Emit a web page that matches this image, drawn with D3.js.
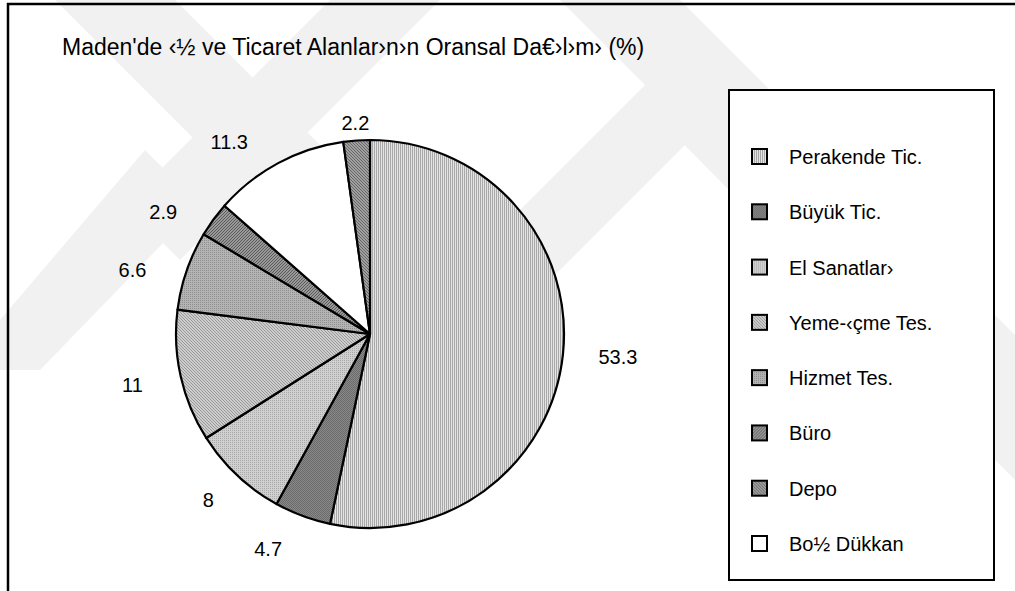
<!DOCTYPE html>
<html><head><meta charset="utf-8">
<script src="https://cdn.jsdelivr.net/npm/d3@7"></script>
<style>html,body{margin:0;padding:0;background:#fff;}svg{display:block;}</style>
</head><body>
<svg id="chart" width="1015" height="591"></svg>
<script>
// ---- data ----
const title = "Maden'de ‹½ ve Ticaret Alanlar›n›n Oransal Da€›l›m› (%)";
const sliceCategories = ["Perakende Tic.", "Büyük Tic.", "El Sanatlar›", "Yeme-‹çme Tes.", "Hizmet Tes.", "Büro", "Bo½ Dükkan", "Depo"];
const sliceValues = [53.3, 4.7, 8, 11, 6.6, 2.9, 11.3, 2.2];
const legendCategories = ["Perakende Tic.", "Büyük Tic.", "El Sanatlar›", "Yeme-‹çme Tes.", "Hizmet Tes.", "Büro", "Depo", "Bo½ Dükkan"];

// ---- layout / style ----
const cx = 370, cy = 334, R = 194;
const labelNudgeDeg = [-0.6, 5, 1, 0.5, -4, -5.7, -8, 0];   // label angle tweaks
const labelGap = [55, 44, 38, 49, 52, 46, 44, 18];          // distance beyond the rim
const svg = d3.select("#chart");
const FONT = "'Liberation Sans', Arial, sans-serif";

// patterns
const defs = svg.append("defs");
function pat(id, w, h, bg, dots, col) {
  const p = defs.append("pattern").attr("id", id).attr("patternUnits", "userSpaceOnUse")
    .attr("width", w).attr("height", h);
  p.append("rect").attr("width", w).attr("height", h).attr("fill", bg);
  dots.forEach(([x, y, ww, hh]) => p.append("rect").attr("x", x).attr("y", y)
    .attr("width", ww || 1).attr("height", hh || 1).attr("fill", col));
}
pat("p0", 2, 2, "#e4e4e4", [[0, 0, 1, 2]], "#a8a8a8");
pat("p1", 2, 2, "#8a8a8a", [[0, 0], [1, 1]], "#6a6a6a");
pat("p2", 2, 2, "#d0d0d0", [[0, 0]], "#a8a8a8");
pat("p3", 3, 3, "#cdcdcd", [[0, 0], [1, 1], [2, 2]], "#999");
pat("p4", 2, 2, "#b4b4b4", [[0, 0]], "#8e8e8e");
pat("p5", 3, 3, "#999999", [[2, 0], [1, 1], [0, 2]], "#5a5a5a");
pat("p6", 3, 3, "#a0a0a0", [[0, 0], [1, 1], [2, 2]], "#666");

const fillMap = {
  "Perakende Tic.": "url(#p0)", "Büyük Tic.": "url(#p1)", "El Sanatlar›": "url(#p2)",
  "Yeme-‹çme Tes.": "url(#p3)", "Hizmet Tes.": "url(#p4)", "Büro": "url(#p5)",
  "Depo": "url(#p6)", "Bo½ Dükkan": "#ffffff"
};

// background watermark (light chevrons)
const wm = svg.append("g").attr("fill", "#f1f1f1");
[
  [[55,0],[175,0],[400,225],[340,285]],
  [[0,320],[145,150],[200,205],[40,370],[0,370]],
  [[330,0],[440,0],[180,260],[125,205]],
  [[440,290],[700,30],[750,80],[490,340]],
  [[560,0],[680,0],[1015,335],[1015,455]],
  [[645,105],[700,50],[1015,365],[1015,480]]
].forEach(pts => wm.append("polygon").attr("points", pts.map(p => p.join(",")).join(" ")));

// frame
svg.append("rect").attr("x", 8).attr("y", 4).attr("width", 1100).attr("height", 700)
  .attr("fill", "none").attr("stroke", "#000").attr("stroke-width", 2.5);

// title
svg.append("text").attr("x", 62).attr("y", 55).attr("font-family", FONT).attr("font-size", 23)
  .attr("fill", "#000").text(title);

// pie
const data = sliceCategories.map((c, i) => ({ cat: c, value: sliceValues[i] }));
const pie = d3.pie().value(d => d.value).sort(null);
const arcs = pie(data);
const arc = d3.arc().innerRadius(0).outerRadius(R);
const g = svg.append("g").attr("transform", `translate(${cx},${cy})`);
g.selectAll("path").data(arcs).join("path")
  .attr("d", arc).attr("fill", d => fillMap[d.data.cat])
  .attr("stroke", "#000").attr("stroke-width", 2.2).attr("stroke-linejoin", "round");

// labels
g.selectAll("text.lbl").data(arcs).join("text").attr("class", "lbl")
  .attr("font-family", FONT).attr("font-size", 20).attr("fill", "#000")
  .attr("text-anchor", "middle").attr("dominant-baseline", "central")
  .text(d => String(d.data.value))
  .each(function(d, i) {
    const a = (d.startAngle + d.endAngle) / 2 + labelNudgeDeg[i] * Math.PI / 180;
    const dist = R + labelGap[i];
    d3.select(this).attr("x", Math.sin(a) * dist).attr("y", -Math.cos(a) * dist);
  });

// legend
svg.append("rect").attr("x", 729).attr("y", 90).attr("width", 265).attr("height", 490)
  .attr("fill", "#fff").attr("stroke", "#000").attr("stroke-width", 2);
const ly = d3.scalePoint().domain(legendCategories).range([157, 544]);
const lg = svg.append("g").selectAll("g").data(legendCategories).join("g")
  .attr("transform", d => `translate(0,${ly(d)})`);
lg.append("rect").attr("x", 752).attr("y", -8).attr("width", 15).attr("height", 15)
  .attr("fill", d => fillMap[d]).attr("stroke", "#000").attr("stroke-width", 2);
lg.append("text").attr("x", 789).attr("y", 0).attr("dominant-baseline", "central")
  .attr("font-family", FONT).attr("font-size", 20).attr("fill", "#000").text(d => d);
</script>
</body></html>
